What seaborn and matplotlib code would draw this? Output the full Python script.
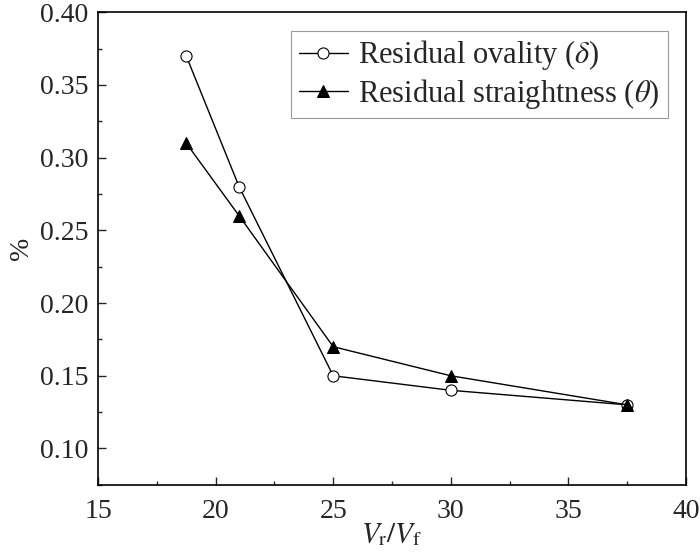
import pandas as pd
import seaborn as sns
import matplotlib.pyplot as plt
from matplotlib.ticker import MultipleLocator

ratio = [18.75, 21, 25, 30, 37.5]
ovality = [0.37, 0.28, 0.15, 0.14, 0.13]
straightness = [0.31, 0.26, 0.17, 0.15, 0.13]
labels = [r'Residual ovality ($\delta$)', r'Residual straightness ($\theta$)']

df = pd.DataFrame({
    'ratio': ratio * 2,
    'value': ovality + straightness,
    'series': [labels[0]] * len(ratio) + [labels[1]] * len(ratio),
})

sns.set_style('ticks')
plt.rcParams['font.family'] = ['Liberation Serif', 'DejaVu Serif']
plt.rcParams['mathtext.fontset'] = 'stix'
plt.rcParams['xtick.direction'] = 'in'
plt.rcParams['ytick.direction'] = 'in'

fig = plt.figure(figsize=(7, 5.56), dpi=100)
ax = fig.add_axes([0.14, 0.128, 0.84, 0.85])

sns.lineplot(data=df[df.series == labels[0]], x='ratio', y='value', ax=ax,
             color='black', lw=1, marker='o', markersize=8,
             markerfacecolor='white', markeredgecolor='black',
             markeredgewidth=0.8, label=labels[0])
sns.lineplot(data=df[df.series == labels[1]], x='ratio', y='value', ax=ax,
             color='black', lw=1, marker='^', markersize=9,
             markerfacecolor='black', markeredgecolor='black',
             label=labels[1])

ax.set_xlim(15, 40)
ax.set_ylim(0.075, 0.40)
ax.xaxis.set_major_locator(MultipleLocator(5))
ax.xaxis.set_minor_locator(MultipleLocator(2.5))
ax.yaxis.set_minor_locator(MultipleLocator(0.025))
ax.set_yticks([0.10, 0.15, 0.20, 0.25, 0.30, 0.35, 0.40])
ax.set_yticklabels(['0.10', '0.15', '0.20', '0.25', '0.30', '0.35', '0.40'])
ax.tick_params(which='major', length=6, width=1, labelsize=20, pad=7)
ax.tick_params(axis='x', which='major', pad=10)
ax.tick_params(which='minor', length=3, width=1)
for s in ax.spines.values():
    s.set_linewidth(1.2)
    s.set_color('black')

ax.set_xlabel(r'$V_\mathrm{r}/V_\mathrm{f}$', fontsize=21, labelpad=-2)
ax.set_ylabel('%', fontsize=20, labelpad=4)

leg = ax.legend(loc='upper right', fontsize=22, frameon=True, fancybox=False,
                edgecolor='gray', handlelength=1.6, handletextpad=0.35,
                borderpad=0.25, labelspacing=0.15, borderaxespad=0.6)
leg.get_frame().set_linewidth(0.8)

fig.savefig('out.png', dpi=100)
